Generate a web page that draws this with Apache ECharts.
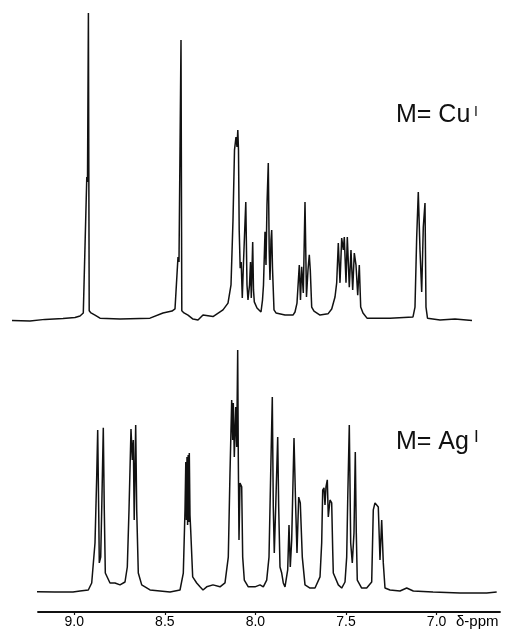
<!DOCTYPE html>
<html>
<head>
<meta charset="utf-8">
<script src="https://cdn.jsdelivr.net/npm/echarts@6/dist/echarts.min.js"></script>
<style>
html,body{margin:0;padding:0;background:#fff;}
#c{width:509px;height:634px;}
</style>
</head>
<body>
<div id="c"></div>
<script>
// chemical shift (ppm) and relative intensity, M = Cu(I)
const cuShift = [9.3435,9.2442,9.1614,9.0620,8.9958,8.9682,8.9500,8.9307,8.9268,8.9218,8.9174,8.9075,8.8854,8.8578,8.7474,8.5818,8.5101,8.4604,8.4438,8.4273,8.4218,8.4107,8.4063,8.3942,8.3721,8.3445,8.3169,8.2893,8.2341,8.1789,8.1513,8.1347,8.1237,8.1154,8.1072,8.1016,8.0972,8.0934,8.0895,8.0840,8.0785,8.0724,8.0657,8.0531,8.0464,8.0409,8.0326,8.0271,8.0227,8.0150,8.0106,8.0061,7.9995,7.9913,7.9692,7.9609,7.9554,7.9471,7.9416,7.9361,7.9289,7.9239,7.9195,7.9140,7.9101,7.9057,7.8974,7.8864,7.8367,7.7926,7.7815,7.7705,7.7578,7.7512,7.7446,7.7357,7.7263,7.7181,7.7098,7.7026,7.6971,7.6894,7.6767,7.6435,7.5994,7.5789,7.5607,7.5514,7.5425,7.5331,7.5238,7.5149,7.5094,7.5000,7.4928,7.4818,7.4725,7.4631,7.4542,7.4448,7.4354,7.4266,7.4189,7.4062,7.3841,7.2572,7.1302,7.1192,7.1098,7.1010,7.0916,7.0822,7.0734,7.0640,7.0585,7.0502,6.9812,6.8984,6.8046];
const cuIntensity = [-0.2,-0.3,0.2,0.5,0.8,1.3,2.3,46.6,45,100,3,2.3,1.6,0.6,0.3,0.6,2.3,2.9,3.6,20.5,18.9,91.2,3,2.3,1.6,0.3,0,1.6,1.1,3.3,5.5,11.4,32.6,55.4,59.6,56.4,61.9,55.4,29.3,16.9,18.9,7.2,18.9,38.4,11.4,6.5,11.4,18.9,7.2,25.4,9.8,5.9,6.5,3.9,2.6,6.5,11.4,28.7,17.9,37.5,51.1,22.8,13.0,26.1,29.3,16.9,3.3,2.3,1.6,1.6,2.6,5.5,17.9,6.5,17.3,8.8,38.4,7.5,16.3,21.2,16.3,4.2,2.9,1.6,2.0,3.6,7.5,12.1,25.1,12.1,26.7,22.8,27.0,12.1,27.0,10.7,22.8,9.8,21.8,17.9,8.1,17.9,4.2,2.3,0.6,0.6,1.0,4.2,27.0,41.7,22.8,9.1,30.3,38.1,4.2,0.6,0,0.3,-0.2];

// M = Ag(I)
const agShift = [9.2072,9.1062,9.0068,8.9682,8.9224,8.9036,8.8854,8.8760,8.8705,8.8650,8.8617,8.8539,8.8484,8.8396,8.8341,8.8285,8.8175,8.8026,8.7750,8.7474,8.7198,8.7071,8.6977,8.6867,8.6795,8.6740,8.6690,8.6608,8.6552,8.6464,8.6276,8.5818,8.4714,8.4162,8.3980,8.3886,8.3842,8.3809,8.3776,8.3743,8.3710,8.3677,8.3649,8.3611,8.3572,8.3462,8.3241,8.3059,8.2893,8.2689,8.2341,8.1955,8.1679,8.1497,8.1403,8.1309,8.1254,8.1221,8.1165,8.1088,8.1033,8.0978,8.0945,8.0906,8.0851,8.0757,8.0702,8.0613,8.0393,8.0023,7.9747,7.9565,7.9377,7.9250,7.9156,7.9068,7.9013,7.8958,7.8880,7.8770,7.8715,7.8643,7.8549,7.8461,7.8367,7.8218,7.8146,7.8075,7.7997,7.7870,7.7777,7.7705,7.7611,7.7523,7.7412,7.7263,7.6987,7.6711,7.6435,7.6342,7.6286,7.6215,7.6159,7.6104,7.6032,7.5977,7.5883,7.5790,7.5734,7.5701,7.5425,7.5238,7.5055,7.4962,7.4906,7.4818,7.4741,7.4653,7.4559,7.4487,7.4432,7.4377,7.4134,7.3858,7.3582,7.3494,7.3400,7.3306,7.3218,7.3124,7.3030,7.2942,7.2848,7.2572,7.2020,7.1650,7.1286,7.0198,6.8708,6.7235,6.6683];
const agIntensity = [-0.3,-0.4,-0.4,0,0.4,3.3,19.8,47.1,66.5,33.5,11.6,14.0,33.5,67.4,33.5,7.4,6.6,3.3,3.3,2.5,3.7,9.9,33.5,66.9,54.1,62.4,29.3,68.6,33.5,7.4,2.5,0.4,-0.4,0.4,7.4,33.5,53.3,29.3,55.4,27.3,56.2,28.5,57.0,31.4,25.2,5.8,3.3,1.7,0.4,1.7,2.5,1.7,3.3,14.0,48.8,78.9,62.4,77.7,55.4,76.0,59.5,99.6,55.4,21.1,44.6,43.0,14.0,4.5,1.7,1.7,2.5,1.7,4.5,14.0,48.8,80.2,34.7,15.7,34.7,63.6,34.7,9.9,7.4,3.3,1.7,8.7,27.3,9.9,21.1,63.2,34.7,15.7,38.8,36.4,14.0,2.5,1.2,1.2,5.8,19.8,41.7,42.6,35.5,43.0,45.9,30.6,37.6,36.4,16.9,7.4,2.5,1.2,3.7,14.0,37.6,68.6,19.8,11.6,24.0,57.4,24.0,4.5,1.2,1.2,3.7,33.5,36.4,36.8,34.7,12.8,29.3,11.6,1.2,0.4,0,1.2,0,-0.4,-0.8,-0.8,-0.4];

const tickLabels = [9.0, 8.5, 8.0, 7.5, 7.0];
const axisUnit = 'δ-ppm';
const cuLabel = 'M= Cu';
const agLabel = 'M= Ag';
const oxState = 'I';

const cuData = cuShift.map((x, i) => [x, cuIntensity[i]]);
const agData = agShift.map((x, i) => [x, agIntensity[i]]);

const chart = echarts.init(document.getElementById('c'), null, {renderer: 'canvas'});
const ink = '#111';
const txtFont = '"Liberation Sans", Arial, sans-serif';

chart.setOption({
  animation: false,
  backgroundColor: '#fff',
  grid: [
    {left: 12, right: 9, top: 13, height: 316.2},
    {left: 38, right: 9, top: 349, height: 263}
  ],
  xAxis: [
    {gridIndex: 0, type: 'value', min: 6.65, max: 9.3435, inverse: true, show: false},
    {gridIndex: 1, type: 'value', min: 6.65, max: 9.2, inverse: true,
      axisLine: {show: true, onZero: false, lineStyle: {color: ink, width: 1.8}},
      axisTick: {show: true, length: 3, customValues: tickLabels, lineStyle: {color: ink, width: 1.2}},
      axisLabel: {show: true, margin: 3, customValues: tickLabels, color: '#000',
        fontFamily: txtFont, fontSize: 14, formatter: v => v.toFixed(1)},
      splitLine: {show: false}}
  ],
  yAxis: [
    {gridIndex: 0, type: 'value', min: -3, max: 100, show: false},
    {gridIndex: 1, type: 'value', min: -8.7, max: 100, show: false}
  ],
  series: [
    {type: 'line', xAxisIndex: 0, yAxisIndex: 0, data: cuData, showSymbol: false, clip: false,
      lineStyle: {color: ink, width: 1.5}},
    {type: 'line', xAxisIndex: 1, yAxisIndex: 1, data: agData, showSymbol: false, clip: false,
      lineStyle: {color: ink, width: 1.5}}
  ],
  graphic: [
    {type: 'text', left: 396, top: 103, style: {text: cuLabel, font: '25px ' + txtFont, fill: ink}},
    {type: 'text', left: 474, top: 105, style: {text: oxState, font: '14px ' + txtFont, fill: ink}},
    {type: 'text', left: 396, top: 430, style: {text: agLabel, font: '25px ' + txtFont, fill: ink}},
    {type: 'text', left: 474, top: 429, style: {text: oxState, font: '17px ' + txtFont, fill: ink}},
    {type: 'text', left: 456, top: 614, style: {text: axisUnit, font: '15px ' + txtFont, fill: '#000'}}
  ]
});
</script>
</body>
</html>
